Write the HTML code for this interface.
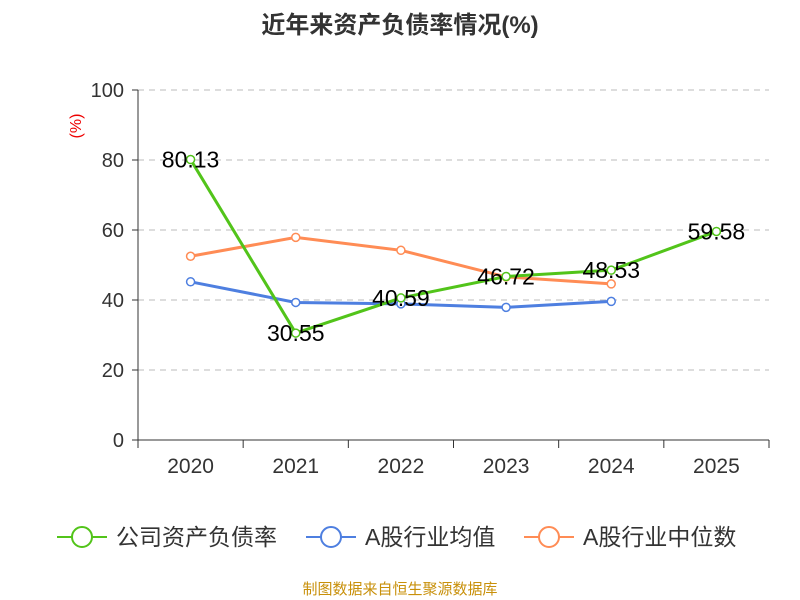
<!DOCTYPE html>
<html><head><meta charset="utf-8"><style>
body{margin:0;background:#fff;}
svg{display:block;font-family:"Liberation Sans","Noto Sans CJK SC",sans-serif;}
</style></head><body>
<svg id="chart" width="800" height="600">
<text x="400" y="33" text-anchor="middle" font-size="24" font-weight="bold" fill="#333">近年来资产负债率情况(%)</text>
<text x="81" y="126" fill="#e00" font-size="16" transform="rotate(-90 81 126)" text-anchor="middle">(%)</text>
<g id="grid"></g><g id="axes"></g><g id="series"></g>
<g>
 <g><line x1="57" y1="537" x2="107" y2="537" stroke="#52c41a" stroke-width="2"/><circle cx="82" cy="537" r="10" fill="#fff" stroke="#52c41a" stroke-width="2"/><text x="116" y="545" font-size="23" fill="#333">公司资产负债率</text></g>
 <g><line x1="306" y1="537" x2="356" y2="537" stroke="#4e7fe0" stroke-width="2"/><circle cx="331" cy="537" r="10" fill="#fff" stroke="#4e7fe0" stroke-width="2"/><text x="365" y="545" font-size="23" fill="#333">A股行业均值</text></g>
 <g><line x1="524" y1="537" x2="574" y2="537" stroke="#ff8c55" stroke-width="2"/><circle cx="549" cy="537" r="10" fill="#fff" stroke="#ff8c55" stroke-width="2"/><text x="583" y="545" font-size="23" fill="#333">A股行业中位数</text></g>
</g>
<text x="400" y="594" text-anchor="middle" font-size="15" fill="#c8900a">制图数据来自恒生聚源数据库</text>
</svg>
<script>
const categories=["2020","2021","2022","2023","2024","2025"];
const companyValues=[80.13,30.55,40.59,46.72,48.53,59.58];
const avgValues=[45.2,39.3,38.9,37.9,39.6];
const medianValues=[52.5,57.9,54.2,46.6,44.6];
const yTicks=[0,20,40,60,80,100];
const NS="http://www.w3.org/2000/svg";
const x0=138,x1=769,y0=440,y1=90;
const band=(x1-x0)/categories.length;
const xs=i=>x0+band*(i+0.5);
const ys=v=>y0-(v/100)*(y0-y1);
function mk(t,a,p){const e=document.createElementNS(NS,t);for(const k in a)e.setAttribute(k,a[k]);p.appendChild(e);return e;}
const grid=document.getElementById('grid'),axes=document.getElementById('axes'),ser=document.getElementById('series');
yTicks.forEach(v=>{
 if(v>0){const g=mk('line',{x1:x0,x2:x1,y1:ys(v),y2:ys(v),stroke:'#bbb','stroke-dasharray':'6,5'},grid);
 
 }
 mk('line',{x1:x0-6,x2:x0,y1:ys(v),y2:ys(v),stroke:'#333'},axes);
 const t=mk('text',{x:x0-14,y:ys(v)+7,'text-anchor':'end','font-size':20,fill:'#333'},axes);t.textContent=v;
 
 
});
mk('line',{x1:x0,x2:x0,y1:y1,y2:y0,stroke:'#333'},axes);
mk('line',{x1:x0,x2:x1,y1:y0,y2:y0,stroke:'#333'},axes);
for(let i=0;i<=categories.length;i++)mk('line',{x1:x0+band*i,x2:x0+band*i,y1:y0,y2:y0+8,stroke:'#333'},axes);
categories.forEach((c,i)=>{const t=mk('text',{x:xs(i),y:473,'text-anchor':'middle','font-size':21,fill:'#333'},axes);t.textContent=c;
 
 });
function line(vals,color,name,labels){
 const g=mk('g',{},ser);
 
 
 mk('polyline',{points:vals.map((v,i)=>xs(i)+','+ys(v)).join(' '),fill:'none',stroke:color,'stroke-width':3},g);
 vals.forEach((v,i)=>{const c=mk('circle',{cx:xs(i),cy:ys(v),r:4,fill:'#fff',stroke:color,'stroke-width':1.5},g);
  
  
  if(labels){const t=mk('text',{x:xs(i),y:ys(v)+8,'text-anchor':'middle','font-size':23,fill:'#000'},g);t.textContent=v.toFixed(2);
   
   }
 });
}
line(medianValues,'#ff8c55','industry-median-line',false);
line(avgValues,'#4e7fe0','industry-avg-line',false);
line(companyValues,'#52c41a','company-line',true);
</script>
</body></html>
